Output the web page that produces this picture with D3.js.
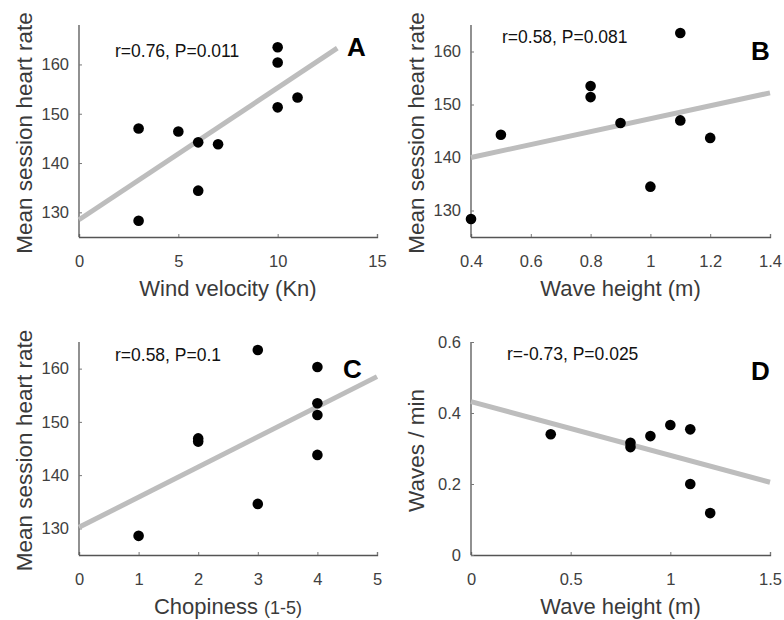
<!DOCTYPE html>
<html>
<head>
<meta charset="utf-8">
<script src="https://d3js.org/d3.v7.min.js"></script>
<style>
  body { margin: 0; background: #fff; }
  text { font-family: "Liberation Sans", Arial, sans-serif; }
</style>
</head>
<body>
<svg id="chart" width="784" height="620"></svg>
<script>
// ---- data ----
var windKn   = [3, 3, 5, 6, 6, 7, 10, 10, 10, 11];
var windHR   = [147, 128.3, 146.4, 144.2, 134.4, 143.8, 163.5, 160.4, 151.3, 153.3];

var waveB    = [0.4, 0.5, 0.8, 0.8, 0.9, 1.0, 1.1, 1.1, 1.2];
var waveHR   = [128.4, 144.3, 153.5, 151.4, 146.5, 134.5, 163.5, 147, 143.7];

var chop     = [1, 2, 2, 3, 3, 4, 4, 4, 4];
var chopHR   = [128.6, 146.9, 146.3, 163.5, 134.6, 160.3, 153.5, 151.3, 143.8];

var waveD    = [0.4, 0.8, 0.8, 0.9, 1.0, 1.1, 1.1, 1.2];
var wavesMin = [0.34, 0.316, 0.304, 0.335, 0.366, 0.354, 0.2, 0.118];

// regression lines: [x0, y0], [x1, y1]
var fitA = [[0, 128.5], [13, 163.3]];
var fitB = [[0.4, 140], [1.4, 152.2]];
var fitC = [[0, 130.2], [5, 158.5]];
var fitD = [[0, 0.432], [1.5, 0.205]];

var ticksA = { x: [0, 5, 10, 15], y: [130, 140, 150, 160] };
var ticksB = { x: [0.4, 0.6, 0.8, 1, 1.2, 1.4], y: [130, 140, 150, 160] };
var ticksC = { x: [0, 1, 2, 3, 4, 5], y: [130, 140, 150, 160] };
var ticksD = { x: [0, 0.5, 1, 1.5], y: [0, 0.2, 0.4, 0.6] };

var panels = [
  { id: "A", xs: windKn, ys: windHR, fit: fitA, ticks: ticksA,
    xDom: [0, 15], yDom: [125, 168], left: 79, right: 377, top: 25, bottom: 237,
    stat: "r=0.76, P=0.011", statX: 115, statY: 57, letterX: 347, letterY: 56,
    xLabel: ["Wind velocity (Kn)"], yLabel: "Mean session heart rate" },
  { id: "B", xs: waveB, ys: waveHR, fit: fitB, ticks: ticksB,
    xDom: [0.4, 1.4], yDom: [125, 165], left: 471, right: 770, top: 25, bottom: 237,
    stat: "r=0.58, P=0.081", statX: 502, statY: 43, letterX: 751, letterY: 60,
    xLabel: ["Wave height (m)"], yLabel: "Mean session heart rate" },
  { id: "C", xs: chop, ys: chopHR, fit: fitC, ticks: ticksC,
    xDom: [0, 5], yDom: [125, 165], left: 79, right: 377, top: 342, bottom: 555,
    stat: "r=0.58, P=0.1", statX: 115, statY: 361, letterX: 343, letterY: 378,
    xLabel: ["Chopiness ", "(1-5)"], yLabel: "Mean session heart rate" },
  { id: "D", xs: waveD, ys: wavesMin, fit: fitD, ticks: ticksD,
    xDom: [0, 1.5], yDom: [0, 0.6], left: 471, right: 770, top: 342, bottom: 555,
    stat: "r=-0.73, P=0.025", statX: 507, statY: 360, letterX: 751, letterY: 380,
    xLabel: ["Wave height (m)"], yLabel: "Waves / min" }
];

var svg = d3.select("#chart");
var fmt = function (d) { return String(d); };

panels.forEach(function (p) {
  var x = d3.scaleLinear().domain(p.xDom).range([p.left, p.right]);
  var y = d3.scaleLinear().domain(p.yDom).range([p.bottom, p.top]);
  var g = svg.append("g");

  // axes (ticks point inward like the original)
  var xa = g.append("g")
    .attr("transform", "translate(0," + p.bottom + ")")
    .call(d3.axisBottom(x).tickValues(p.ticks.x).tickFormat(fmt).tickSize(-3).tickSizeOuter(-3).tickPadding(18));
  var ya = g.append("g")
    .attr("transform", "translate(" + p.left + ",0)")
    .call(d3.axisLeft(y).tickValues(p.ticks.y).tickFormat(fmt).tickSize(-3).tickSizeOuter(0).tickPadding(10));
  [xa, ya].forEach(function (a) {
    a.select(".domain").attr("stroke", "#555").attr("stroke-width", 1.3);
    a.selectAll(".tick line").attr("stroke", "#777");
    a.selectAll(".tick text").attr("fill", "#404040").attr("font-size", 16.5)
      .attr("font-family", "'Liberation Sans', Arial, sans-serif");
  });
  ya.select(".domain").attr("d", "M0," + p.bottom + "V" + p.top);

  // fitted line
  g.append("line")
    .attr("x1", x(p.fit[0][0])).attr("y1", y(p.fit[0][1]))
    .attr("x2", x(p.fit[1][0])).attr("y2", y(p.fit[1][1]))
    .attr("stroke", "#bdbdbd").attr("stroke-width", 5);

  // points
  g.selectAll("circle").data(p.xs).enter().append("circle")
    .attr("cx", function (d) { return x(d); })
    .attr("cy", function (d, i) { return y(p.ys[i]); })
    .attr("r", 5.3).attr("fill", "#000");

  // stats text
  g.append("text").attr("x", p.statX).attr("y", p.statY)
    .attr("font-size", 17.5).attr("fill", "#111").text(p.stat);

  // panel letter
  g.append("text").attr("x", p.letterX).attr("y", p.letterY)
    .attr("font-size", 26).attr("font-weight", "bold").attr("fill", "#000").text(p.id);

  // x label
  var xl = g.append("text")
    .attr("x", (p.left + p.right) / 2).attr("y", p.bottom + 59)
    .attr("text-anchor", "middle").attr("font-size", 22).attr("fill", "#3a3a3a");
  xl.append("tspan").text(p.xLabel[0]);
  if (p.xLabel[1]) xl.append("tspan").attr("font-size", 18).text(p.xLabel[1]);

  // y label
  g.append("text")
    .attr("transform", "translate(" + (p.left - 47) + "," + ((p.top + p.bottom) / 2 + 2) + ") rotate(-90)")
    .attr("text-anchor", "middle").attr("font-size", 22.5).attr("fill", "#3a3a3a")
    .text(p.yLabel);
});
</script>
</body>
</html>
